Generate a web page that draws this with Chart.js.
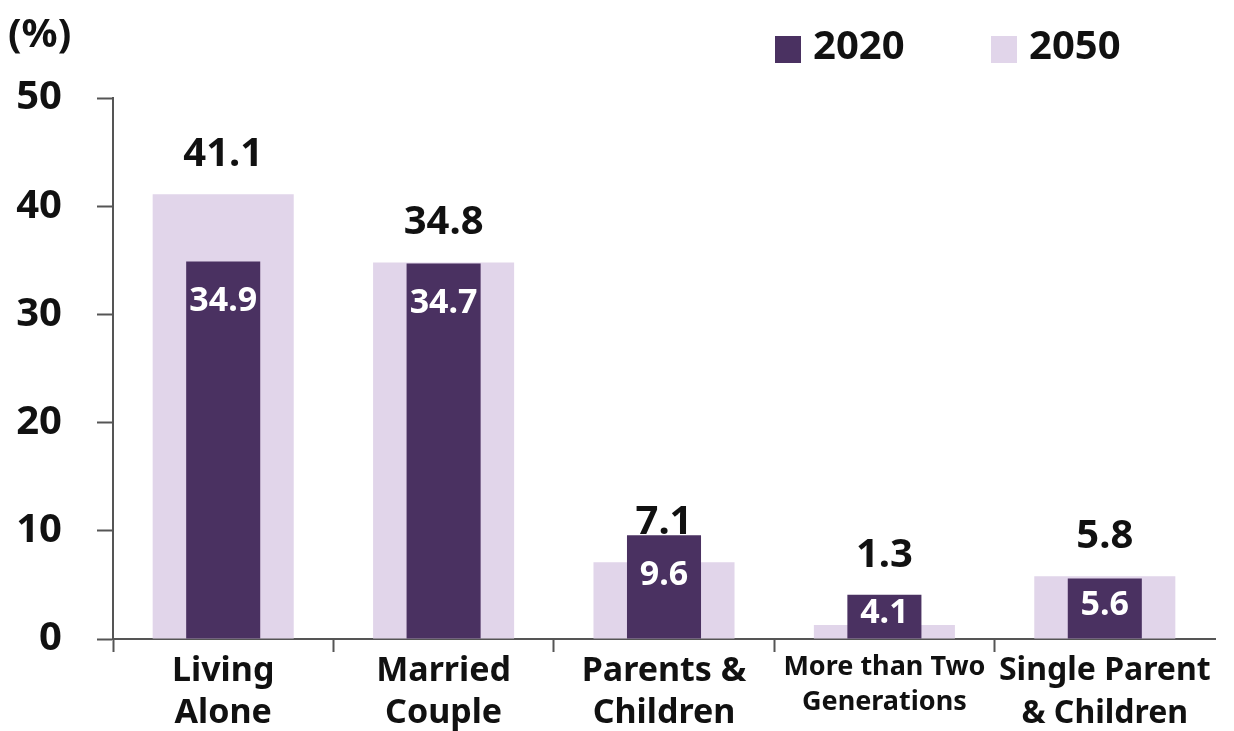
<!DOCTYPE html>
<html>
<head>
<meta charset="utf-8">
<script src="https://cdn.jsdelivr.net/npm/chart.js@4.4.1/dist/chart.umd.min.js"></script>
<style>
    body { margin: 0; background: #fff; }
    #wrap { width: 1234px; height: 731px; }
</style>
</head>
<body>
<div id="wrap"><canvas id="myChart" width="1234" height="731"></canvas></div>
<script>
const categories = [
    ["Living", "Alone"],
    ["Married", "Couple"],
    ["Parents &", "Children"],
    ["More than Two", "Generations"],
    ["Single Parent", "& Children"],
];
const seriesNames = ["2020", "2050"];
const values2020 = [34.9, 34.7, 9.6, 4.1, 5.6];
const values2050 = [41.1, 34.8, 7.1, 1.3, 5.8];
const yMin = 0;
const yMax = 50;
const yStep = 10;
const unitLabel = "(%)";

const darkColor = "#4a3161";
const lightColor = "#e1d5ea";
const axisColor = "#555555";
const textColor = "#111111";
const fontFamily = "'Noto Sans', 'DejaVu Sans', sans-serif";

// value labels + legend + unit, drawn on the canvas
const labelPlugin = {
    id: "labelPlugin",
    afterDatasetsDraw(chart) {
        const ctx = chart.ctx;
        const darkMeta = chart.getDatasetMeta(0);
        const lightMeta = chart.getDatasetMeta(1);
        ctx.save();
        ctx.textAlign = "center";
        ctx.textBaseline = "middle";

        darkMeta.data.forEach((bar, i) => {
            const lightBar = lightMeta.data[i];
            // 2050 label above the column
            let y = lightBar.y - 40;
            if (y > bar.y - 12) y = bar.y - 39;
            ctx.fillStyle = textColor;
            ctx.font = `bold 40px ${fontFamily}`;
            ctx.fillText(values2050[i].toFixed(1), lightBar.x, y);

            // 2020 label inside the dark bar
            const inside = Math.min(bar.y + 40, (bar.y + bar.base) / 2 - 3);
            ctx.fillStyle = "#ffffff";
            ctx.font = `bold 34px ${fontFamily}`;
            ctx.fillText(values2020[i].toFixed(1), bar.x, inside);
        });
        ctx.restore();
    },
    afterDraw(chart) {
        const ctx = chart.ctx;
        ctx.save();
        ctx.textBaseline = "middle";
        ctx.textAlign = "left";
        ctx.fillStyle = textColor;
        ctx.font = `bold 40px ${fontFamily}`;
        ctx.fillText(unitLabel, 8, 36);

        const legendX = [775, 991];
        const colors = [darkColor, lightColor];
        seriesNames.forEach((name, i) => {
            ctx.fillStyle = colors[i];
            ctx.fillRect(legendX[i], 36, 26, 27);
            ctx.fillStyle = textColor;
            ctx.font = `bold 40px ${fontFamily}`;
            ctx.fillText(name, legendX[i] + 38, 48);
        });
        ctx.restore();
    },
};

const data = {
    labels: categories,
    datasets: [
        {
            label: seriesNames[0],
            data: values2020,
            backgroundColor: darkColor,
            grouped: false,
            categoryPercentage: 1,
            barPercentage: 0.336,
            order: 0,
        },
        {
            label: seriesNames[1],
            data: values2050,
            backgroundColor: lightColor,
            grouped: false,
            categoryPercentage: 1,
            barPercentage: 0.64,
            order: 1,
        },
    ],
};

function categoryFont(c) {
    if (c.index === 3) {
        return { family: fontFamily, size: 27, weight: "bold", lineHeight: 1.3 };
    }
    if (c.index === 4) {
        return { family: fontFamily, size: 32, weight: "bold", lineHeight: 1.33 };
    }
    return { family: fontFamily, size: 34, weight: "bold", lineHeight: 1.25 };
}

const config = {
    type: "bar",
    data: data,
    options: {
        responsive: false,
        animation: false,
        layout: {
            padding: { top: 98, right: 19, left: 0, bottom: 0 },
        },
        plugins: {
            legend: { display: false },
            title: { display: false },
            tooltip: { enabled: false },
        },
        scales: {
            x: {
                afterFit: (scale) => {
                    scale.height = 92;
                },
                border: { color: axisColor, width: 2 },
                grid: {
                    drawOnChartArea: false,
                    tickLength: 13,
                    tickColor: (c) => (c.type === "tick" ? axisColor : "transparent"),
                    tickWidth: 2,
                },
                ticks: {
                    color: textColor,
                    padding: -2,
                    maxRotation: 0,
                    autoSkip: false,
                    font: categoryFont,
                },
            },
            y: {
                min: yMin,
                max: yMax,
                afterFit: (scale) => {
                    scale.width = 113;
                },
                border: { color: axisColor, width: 2 },
                grid: {
                    drawOnChartArea: false,
                    tickLength: 16,
                    tickColor: axisColor,
                    tickWidth: 2,
                },
                ticks: {
                    stepSize: yStep,
                    color: textColor,
                    padding: 35,
                    font: { family: fontFamily, size: 40, weight: "bold" },
                },
            },
        },
    },
    plugins: [labelPlugin],
};

const myChart = new Chart(document.getElementById("myChart"), config);
</script>
</body>
</html>
